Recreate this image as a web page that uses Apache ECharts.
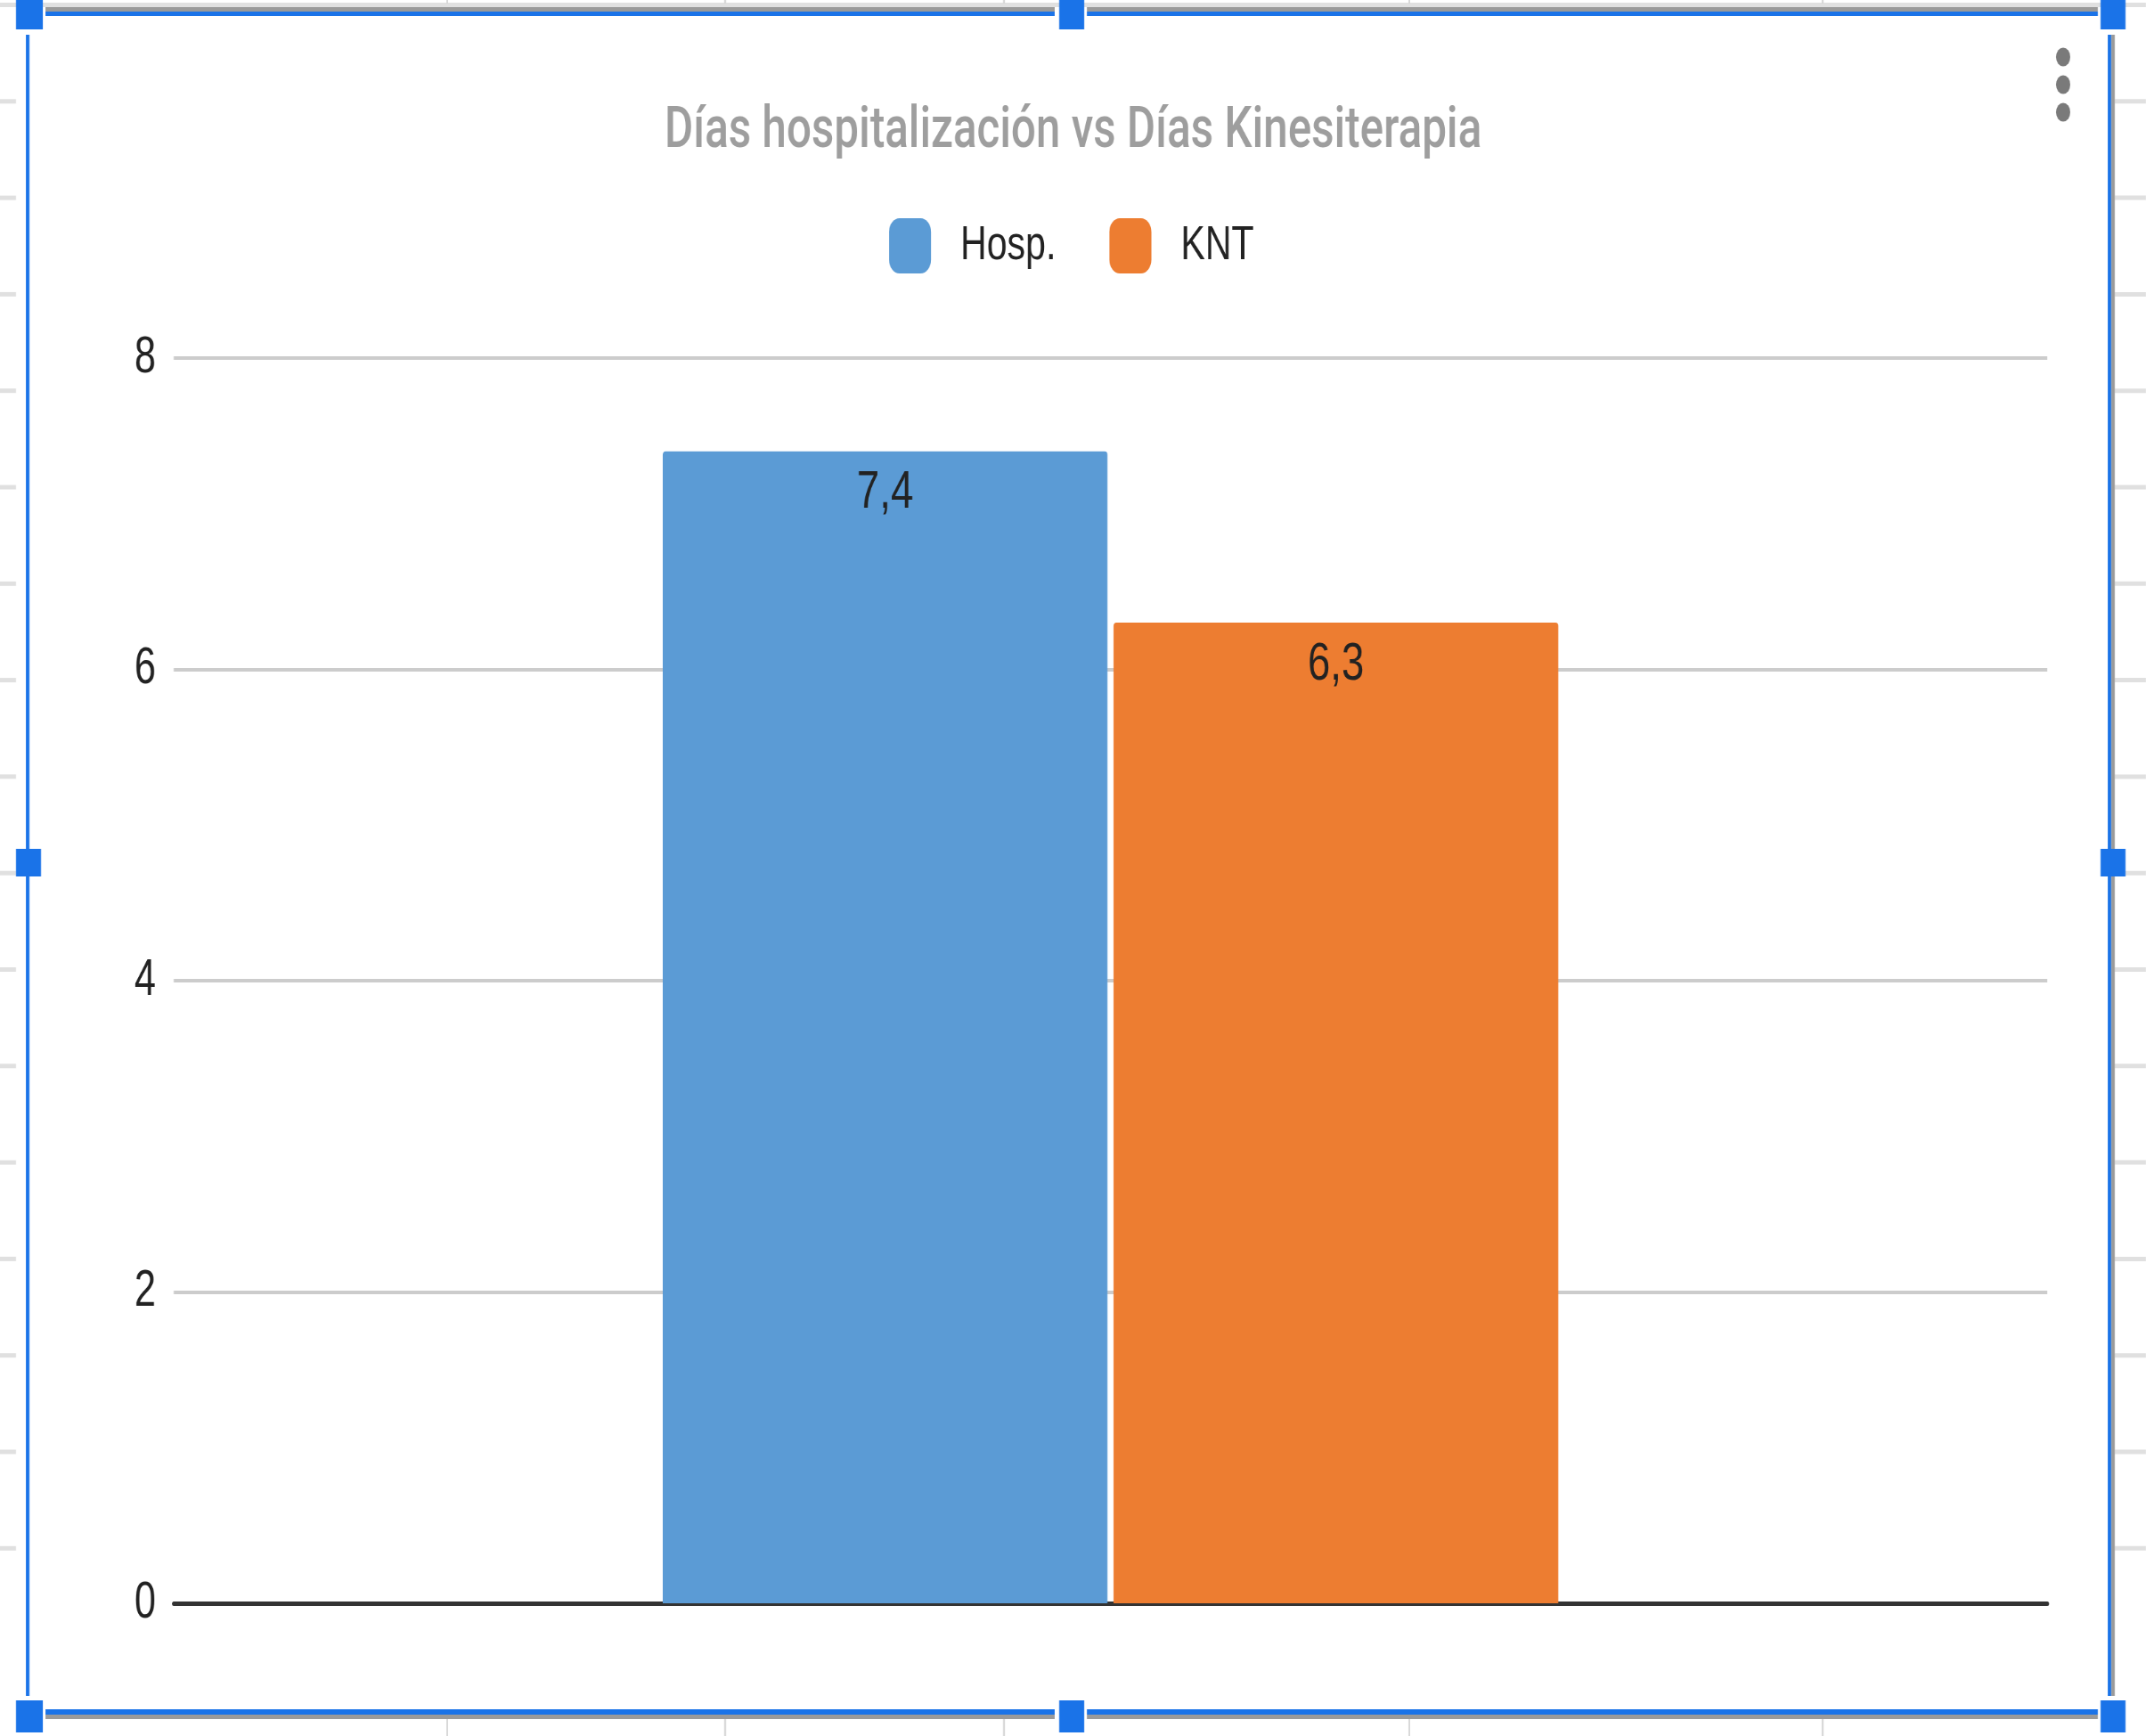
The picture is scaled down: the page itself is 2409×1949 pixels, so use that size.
<!DOCTYPE html>
<html>
<head>
<meta charset="utf-8">
<title>Días hospitalización vs Días Kinesiterapia</title>
<script src="https://cdn.jsdelivr.net/npm/echarts@6/dist/echarts.min.js"></script>
<style>
  html, body { margin: 0; padding: 0; background: #ffffff; overflow: hidden; }
  #chart { position: absolute; left: 0; top: 0; height: 1949px; transform-origin: 0 0; }
</style>
</head>
<body>
<div id="chart"></div>
<script>
// Data
const categories = [''];
const seriesNames = ['Hosp.', 'KNT'];
const hospValues = [7.4];
const kntValues = [6.3];
const yTicks = [0, 2, 4, 6, 8];

// The chart is laid out on a wider canvas and compressed horizontally
const S = 0.76;
const FULL_W = 2409;
const W = FULL_W / S;
const X = v => v / S;

const el = document.getElementById('chart');
el.style.width = W + 'px';
el.style.transform = 'scaleX(' + S + ')';

const chart = echarts.init(el, null, { renderer: 'canvas' });

const FONT = '"Liberation Sans", Arial, sans-serif';
const TITLE_FONT = 'Roboto, "Liberation Sans", Arial, sans-serif';
const BLUE_UI = '#1a73e8';
const fmt = v => String(v).replace('.', ',');

// Sheet decoration around the chart frame
const deco = [];
function rect(x, y, w, h, fill) {
  deco.push({ type: 'rect', silent: true, z: 100,
    shape: { x: X(x), y: y, width: X(w), height: h }, style: { fill: fill } });
}
// sheet row lines peeking out on both sides
rect(0, 3, FULL_W, 5, '#e0e0e0');
for (let k = 1; k <= 16; k++) {
  const y = 3 + 108.3 * k;
  rect(0, y, 18, 5, '#e0e0e0');
  rect(2374, y, 35, 5, '#e0e0e0');
}
// sheet column lines above and below the frame
[501, 813, 1126, 1581, 2045].forEach(cx => {
  rect(cx, 0, 2, 4, '#d6d6d6');
  rect(cx, 1930, 2, 19, '#d6d6d6');
});
// frame edges
[[51, 1184], [1220, 2355]].forEach(([a, b]) => {
  rect(a, 8, b - a, 5, '#9a9a9a');
  rect(a, 13, b - a, 5, BLUE_UI);
  rect(a, 1919, b - a, 6, BLUE_UI);
  rect(a, 1925, b - a, 5, '#9a9a9a');
});
rect(29, 39, 4, 1865, BLUE_UI);
rect(2366, 39, 4, 1865, BLUE_UI);
rect(2370, 39, 4, 1865, '#9a9a9a');
// resize handles
rect(18, 0, 30, 33, BLUE_UI);
rect(1189, 0, 28, 33, BLUE_UI);
rect(2358, 0, 28, 33, BLUE_UI);
rect(18, 953, 28, 31, BLUE_UI);
rect(2358, 953, 28, 31, BLUE_UI);
rect(18, 1909, 30, 36, BLUE_UI);
rect(1189, 1909, 28, 36, BLUE_UI);
rect(2358, 1909, 28, 36, BLUE_UI);
// overflow menu dots
[64, 95, 126].forEach(cy => {
  deco.push({ type: 'circle', silent: true, z: 100,
    shape: { cx: X(2316), cy: cy, r: 10.5 }, style: { fill: '#7a7a7a' } });
});

const barLabel = {
  show: true,
  position: 'insideTop',
  distance: 17,
  fontSize: 60,
  fontFamily: FONT,
  color: '#222222',
  formatter: p => fmt(p.value)
};

chart.setOption({
  backgroundColor: '#ffffff',
  animation: false,
  title: {
    text: 'Días hospitalización vs Días Kinesiterapia',
    left: 'center',
    top: 116,
    padding: 0,
    textStyle: { fontFamily: TITLE_FONT, fontSize: 65, lineHeight: 65, fontWeight: 500, color: '#9e9e9e' }
  },
  legend: {
    data: seriesNames,
    left: X(998),
    top: 245,
    padding: 0,
    icon: 'roundRect',
    itemWidth: 62,
    itemHeight: 62,
    itemGap: X(60),
    textStyle: { fontFamily: FONT, fontSize: 54, color: '#222222', padding: [0, 0, 0, X(33) - 5] }
  },
  grid: {
    left: X(195),
    right: W - X(2298),
    top: 402,
    bottom: 1949 - 1800,
    containLabel: false
  },
  xAxis: {
    type: 'category',
    data: categories,
    axisLine: { show: true, lineStyle: { color: '#333333', width: 5 } },
    axisTick: { show: false },
    axisLabel: { show: false }
  },
  yAxis: {
    type: 'value',
    min: yTicks[0],
    max: yTicks[yTicks.length - 1],
    interval: yTicks[1] - yTicks[0],
    axisLine: { show: false },
    axisTick: { show: false },
    axisLabel: { fontFamily: FONT, fontSize: 57, color: '#222222', margin: X(20) },
    splitLine: { lineStyle: { color: '#cccccc', width: 4 } }
  },
  series: [
    {
      name: seriesNames[0],
      type: 'bar',
      data: hospValues,
      barWidth: '23.73%',
      barGap: '1.4%',
      itemStyle: { color: '#5b9bd5', borderRadius: [4, 4, 0, 0] },
      label: barLabel
    },
    {
      name: seriesNames[1],
      type: 'bar',
      data: kntValues,
      barWidth: '23.73%',
      barGap: '1.4%',
      itemStyle: { color: '#ed7d31', borderRadius: [4, 4, 0, 0] },
      label: barLabel
    }
  ],
  graphic: deco
});
</script>
</body>
</html>
